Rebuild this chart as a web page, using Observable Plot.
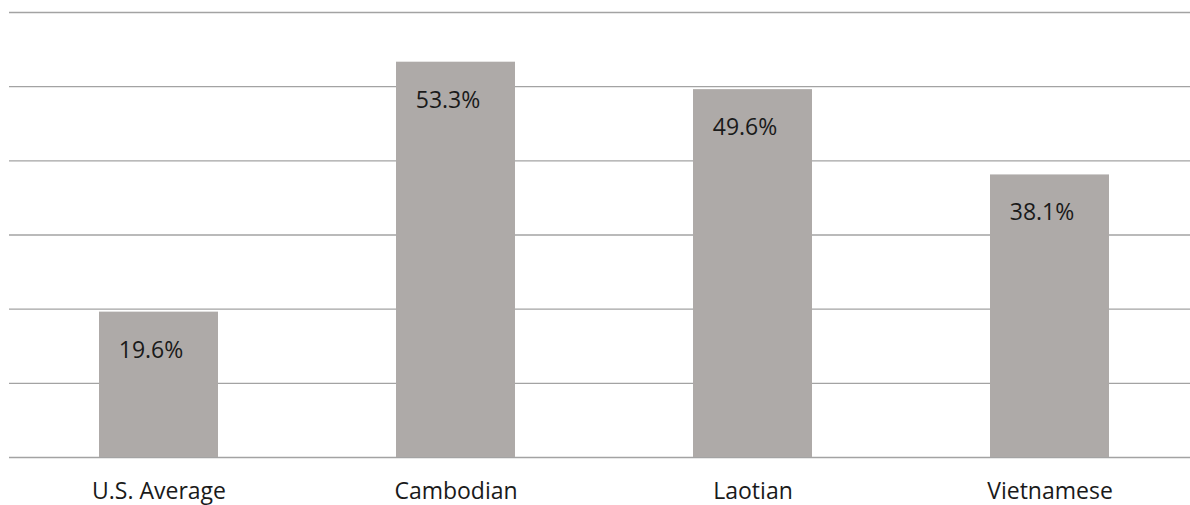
<!DOCTYPE html>
<html>
<head>
<meta charset="utf-8">
<script src="https://cdn.jsdelivr.net/npm/d3@7"></script>
<script src="https://cdn.jsdelivr.net/npm/@observablehq/plot@0.6"></script>
<style>
  html, body { margin: 0; padding: 0; background: #ffffff; }
  #chart { width: 1190px; height: 505px; overflow: hidden; }
</style>
</head>
<body>
<div id="chart"></div>
<script>
const categories = ["U.S. Average", "Cambodian", "Laotian", "Vietnamese"];
const values = [19.6, 53.3, 49.6, 38.1];
const labels = ["19.6%", "53.3%", "49.6%", "38.1%"];
const gridTicks = [0, 10, 20, 30, 40, 50, 60];

const data = categories.map((c, i) => ({category: c, value: values[i], label: labels[i]}));

const chart = Plot.plot({
  width: 1190,
  height: 505,
  marginTop: 12,
  marginBottom: 48,
  marginLeft: 9,
  marginRight: 0,
  style: {fontFamily: "'Open Sans', Lato, sans-serif", background: "#ffffff"},
  x: {domain: categories, range: [9.5, 1197.5], paddingInner: 0.6, paddingOuter: 0.3, label: null},
  y: {domain: [0, 60], label: null},
  marks: [
    Plot.ruleY(gridTicks, {stroke: "#a3a3a3", strokeWidth: 1.3}),
    Plot.barY(data, {x: "category", y: "value", fill: "#aeaaa8"}),
    Plot.text(data, {x: "category", y: "value", text: "label", dy: 38, dx: -8, fontSize: 23, fill: "#1a1a1a"}),
    Plot.axisX({tickSize: 0, tickPadding: 25, fontSize: 23, fill: "#1a1a1a"}),
    Plot.axisY({ticks: [], tickSize: 0, label: null})
  ]
});
document.getElementById("chart").appendChild(chart);
</script>
</body>
</html>
